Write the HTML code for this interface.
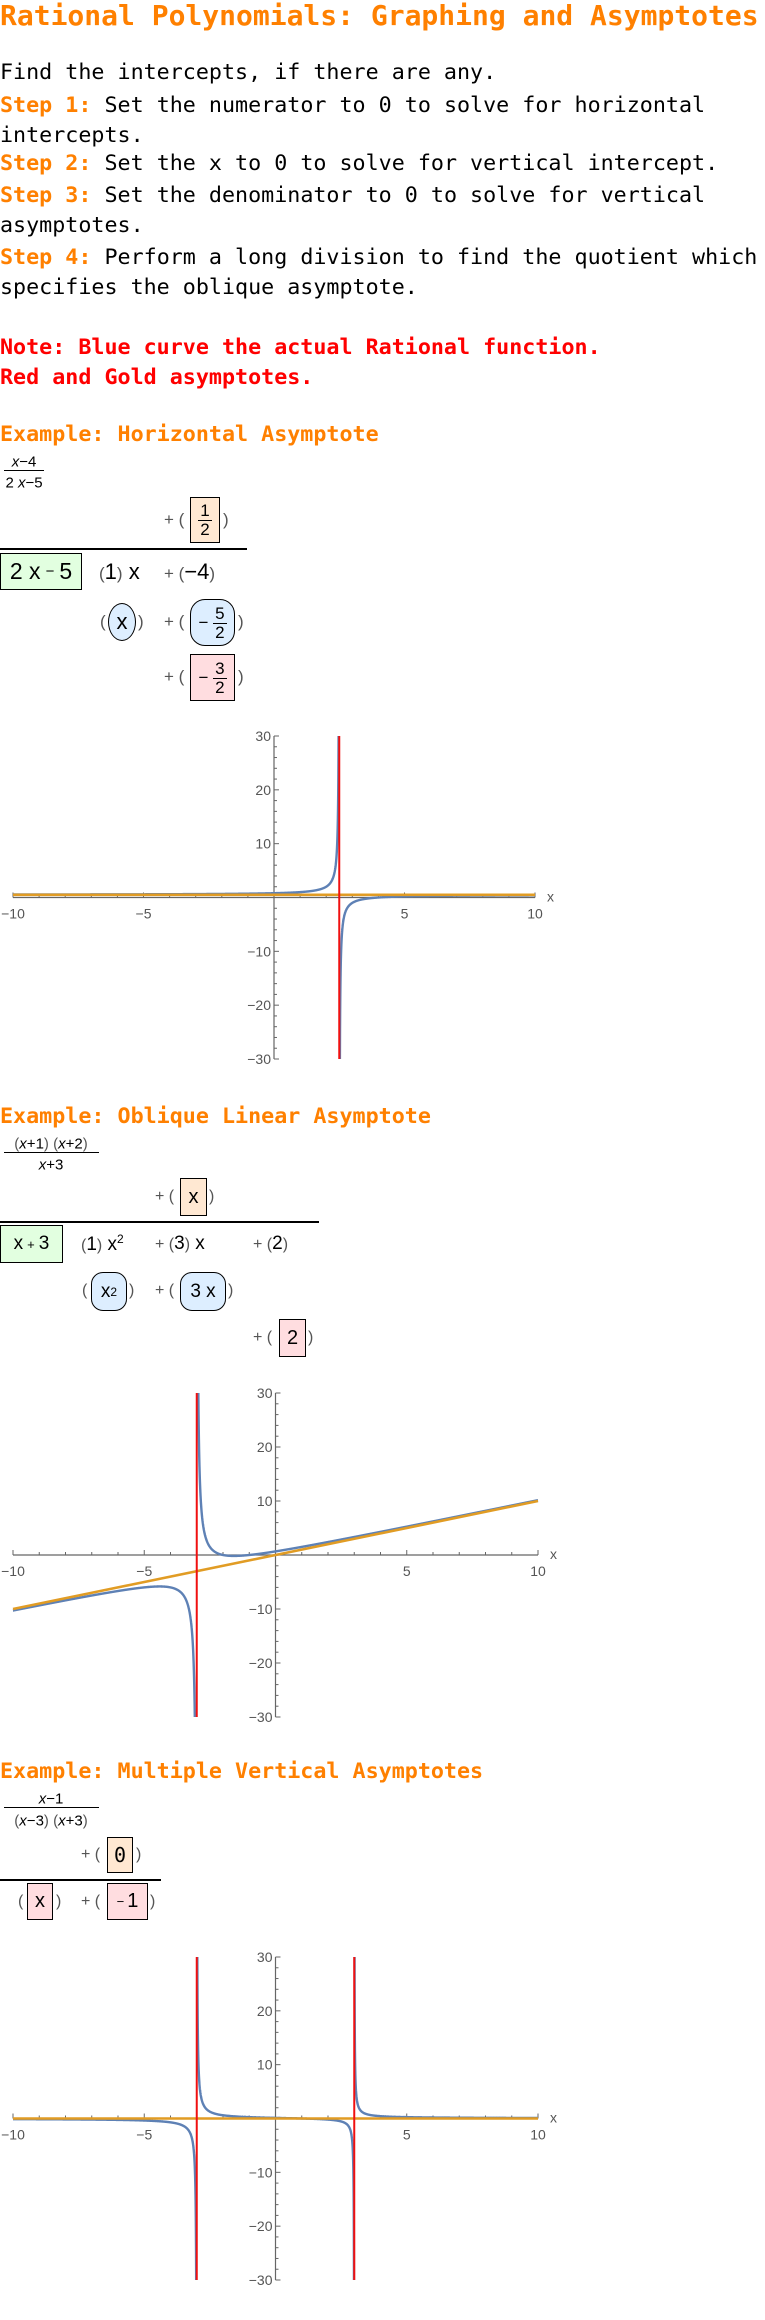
<!DOCTYPE html>
<html><head><meta charset="utf-8">
<style>
html,body{margin:0;padding:0;background:#fff}
body{width:765px;height:2320px;position:relative;overflow:hidden}
.a{position:absolute;white-space:nowrap}
.m{font-family:"DejaVu Sans Mono","Liberation Mono",monospace}
.ln{font-size:21.7px;line-height:30px;height:30px;color:#000}
.or{color:#FF8000;font-weight:bold}
.rd{color:#FF0000;font-weight:bold}
.s{font-family:"Liberation Sans","DejaVu Sans",sans-serif;color:#000;transform:translateY(-50%)}
.p{color:#555;font-weight:300}
.bx{position:absolute;border:1.5px solid #000;box-sizing:border-box;display:flex;align-items:center;justify-content:center;font-family:"Liberation Sans","DejaVu Sans",sans-serif;color:#000}
.hl{position:absolute;background:#000;height:1.5px}
.fr{display:inline-flex;flex-direction:column;align-items:center;line-height:1;vertical-align:middle}
.fr span:first-child{border-bottom:1px solid #000;padding:0 2px 1px}
.sf{position:absolute;font-family:"Liberation Sans","DejaVu Sans",sans-serif;font-size:15px;transform:translate(-50%,-50%);color:#000}
i{font-style:italic}
</style></head>
<body>

<div class="a m" style="left:0;top:0;font-size:28px;line-height:32px;font-weight:bold;color:#FF8000">Rational Polynomials: Graphing and Asymptotes</div>

<div class="a m ln" style="left:0;top:58px">Find the intercepts, if there are any.</div>
<div class="a m ln" style="left:0;top:91px"><span class="or">Step 1:</span> Set the numerator to 0 to solve for horizontal</div>
<div class="a m ln" style="left:0;top:121px">intercepts.</div>
<div class="a m ln" style="left:0;top:149px"><span class="or">Step 2:</span> Set the x to 0 to solve for vertical intercept.</div>
<div class="a m ln" style="left:0;top:181px"><span class="or">Step 3:</span> Set the denominator to 0 to solve for vertical</div>
<div class="a m ln" style="left:0;top:211px">asymptotes.</div>
<div class="a m ln" style="left:0;top:243px"><span class="or">Step 4:</span> Perform a long division to find the quotient which</div>
<div class="a m ln" style="left:0;top:273px">specifies the oblique asymptote.</div>
<div class="a m ln rd" style="left:0;top:333px">Note: Blue curve the actual Rational function.</div>
<div class="a m ln rd" style="left:0;top:363px">Red and Gold asymptotes.</div>

<!-- Example 1 -->
<div class="a m ln or" style="left:0;top:420px">Example: Horizontal Asymptote</div>
<div class="sf" style="left:24px;top:462px"><i>x</i>−4</div>
<div class="hl" style="left:4px;width:40px;top:470px;height:1px"></div>
<div class="sf" style="left:24px;top:483px">2 <i>x</i>−5</div>

<div class="a s p" style="left:164px;top:520px;font-size:17px">+ (</div>
<div class="bx" style="left:190px;top:497px;width:30px;height:46px;background:#FFE8D2;font-size:17px"><span class="fr"><span>1</span><span>2</span></span></div>
<div class="a s p" style="left:223px;top:520px;font-size:17px">)</div>
<div class="hl" style="left:0;width:247px;top:548px"></div>
<div class="bx" style="left:0;top:553px;width:82px;height:37px;background:#E2FFE0;font-size:23px">2 x <span style="font-size:15px;margin:0 5px">−</span> 5</div>
<div class="a s" style="left:99px;top:572px;font-size:22px"><span class="p" style="font-size:17px">(</span>1<span class="p" style="font-size:17px">)</span> x</div>
<div class="a s" style="left:164px;top:572px;font-size:22px"><span class="p" style="font-size:17px">+ (</span>−4<span class="p" style="font-size:17px">)</span></div>
<div class="a s p" style="left:100px;top:622px;font-size:17px">(</div>
<div class="bx" style="left:108px;top:603px;width:28px;height:38px;border-radius:50%;border-width:1px;background:#DDEEFF;font-size:22px">x</div>
<div class="a s p" style="left:138px;top:622px;font-size:17px">)</div>
<div class="a s p" style="left:164px;top:622px;font-size:17px">+ (</div>
<div class="bx" style="left:190px;top:599px;width:45px;height:47px;border-radius:15px;border-width:1px;background:#DDEEFF;font-size:17px">−&nbsp;<span class="fr"><span>5</span><span>2</span></span></div>
<div class="a s p" style="left:238px;top:622px;font-size:17px">)</div>
<div class="a s p" style="left:164px;top:677px;font-size:17px">+ (</div>
<div class="bx" style="left:190px;top:654px;width:45px;height:47px;background:#FFDDE0;font-size:17px">−&nbsp;<span class="fr"><span>3</span><span>2</span></span></div>
<div class="a s p" style="left:238px;top:677px;font-size:17px">)</div>

<svg id="plots" class="a" style="left:0;top:0" width="765" height="2320"></svg>

<!-- Example 2 -->
<div class="a m ln or" style="left:0;top:1102px">Example: Oblique Linear Asymptote</div>
<div class="sf" style="left:51px;top:1144px"><span class="p">(</span><i>x</i>+1<span class="p">) (</span><i>x</i>+2<span class="p">)</span></div>
<div class="hl" style="left:4px;width:95px;top:1152px;height:1px"></div>
<div class="sf" style="left:51px;top:1165px"><i>x</i>+3</div>
<div class="a s p" style="left:155px;top:1197px;font-size:16px">+ (</div>
<div class="bx" style="left:180px;top:1178px;width:27px;height:38px;background:#FFE8D2;font-size:20px">x</div>
<div class="a s p" style="left:209px;top:1197px;font-size:16px">)</div>
<div class="hl" style="left:0;width:319px;top:1221px"></div>
<div class="bx" style="left:0;top:1225px;width:63px;height:38px;background:#E2FFE0;font-size:19px">x <span style="font-size:13px;margin:0 4px">+</span> 3</div>
<div class="a s" style="left:81px;top:1244px;font-size:19px"><span class="p" style="font-size:16px">(</span>1<span class="p" style="font-size:16px">)</span> x<sup style="font-size:12px">2</sup></div>
<div class="a s" style="left:155px;top:1244px;font-size:19px"><span class="p" style="font-size:16px">+ (</span>3<span class="p" style="font-size:16px">)</span> x</div>
<div class="a s" style="left:253px;top:1244px;font-size:19px"><span class="p" style="font-size:16px">+ (</span>2<span class="p" style="font-size:16px">)</span></div>
<div class="a s p" style="left:82px;top:1291px;font-size:16px">(</div>
<div class="bx" style="left:91px;top:1272px;width:36px;height:39px;border-radius:12px;border-width:1px;background:#DDEEFF;font-size:19px">x<sup style="font-size:12px">2</sup></div>
<div class="a s p" style="left:129px;top:1291px;font-size:16px">)</div>
<div class="a s p" style="left:155px;top:1291px;font-size:16px">+ (</div>
<div class="bx" style="left:180px;top:1272px;width:46px;height:39px;border-radius:12px;border-width:1px;background:#DDEEFF;font-size:19px">3 x</div>
<div class="a s p" style="left:228px;top:1291px;font-size:16px">)</div>
<div class="a s p" style="left:253px;top:1338px;font-size:16px">+ (</div>
<div class="bx" style="left:279px;top:1319px;width:27px;height:38px;background:#FFDDE0;font-size:20px">2</div>
<div class="a s p" style="left:308px;top:1338px;font-size:16px">)</div>

<!-- Example 3 -->
<div class="a m ln or" style="left:0;top:1757px">Example: Multiple Vertical Asymptotes</div>
<div class="sf" style="left:51px;top:1799px"><i>x</i>−1</div>
<div class="hl" style="left:4px;width:95px;top:1807px;height:1px"></div>
<div class="sf" style="left:51px;top:1821px"><span class="p">(</span><i>x</i>−3<span class="p">) (</span><i>x</i>+3<span class="p">)</span></div>
<div class="a s p" style="left:81px;top:1855px;font-size:16px">+ (</div>
<div class="bx m" style="left:107px;top:1837px;width:26px;height:36px;background:#FFE8D2;font-size:20px;font-family:'DejaVu Sans Mono',monospace">0</div>
<div class="a s p" style="left:136px;top:1855px;font-size:16px">)</div>
<div class="hl" style="left:0;width:161px;top:1879px"></div>
<div class="a s p" style="left:18px;top:1902px;font-size:16px">(</div>
<div class="bx" style="left:27px;top:1883px;width:26px;height:37px;background:#FFDDE0;font-size:20px">x</div>
<div class="a s p" style="left:56px;top:1902px;font-size:16px">)</div>
<div class="a s p" style="left:81px;top:1902px;font-size:16px">+ (</div>
<div class="bx" style="left:107px;top:1883px;width:41px;height:37px;background:#FFDDE0;font-size:20px"><span style="font-size:13px;margin-right:3px">−</span>1</div>
<div class="a s p" style="left:150px;top:1902px;font-size:16px">)</div>

<script>
// ---- chart data ----
const xTickValues = [-10, -5, 5, 10];
const xTickLabels = ["−10", "−5", "5", "10"];
const yTickValues = [-30, -20, -10, 10, 20, 30];
const yTickLabels = ["−30", "−20", "−10", "10", "20", "30"];
const xDomain = [-10, 10];
const yDomain = [-30, 30];

// plot 1: (x-4)/(2x-5)
const p1Numerator = [1, -4];
const p1Denominator = [2, -5];
const p1Vertical = [2.5];
const p1Asymptote = [0, 0.5]; // slope, intercept

// plot 2: (x+1)(x+2)/(x+3)
const p2Numerator = [1, 3, 2];
const p2Denominator = [1, 3];
const p2Vertical = [-3];
const p2Asymptote = [1, 0];

// plot 3: (x-1)/((x-3)(x+3))
const p3Numerator = [1, -1];
const p3Denominator = [1, 0, -9];
const p3Vertical = [-3, 3];
const p3Asymptote = [0, 0];

const NS = "http://www.w3.org/2000/svg";
function poly(c, x) { let v = 0; for (const k of c) v = v * x + k; return v; }
function mk(tag, attrs, parent) {
  const e = document.createElementNS(NS, tag);
  for (const k in attrs) e.setAttribute(k, attrs[k]);
  parent.appendChild(e);
  return e;
}
let clipCount = 0;

function drawPlot(svg, box, num, den, vert, asym, prefix) {
  const sx = x => box.l + (x - xDomain[0]) / (xDomain[1] - xDomain[0]) * (box.r - box.l);
  const sy = y => box.t + (yDomain[1] - y) / (yDomain[1] - yDomain[0]) * (box.b - box.t);
  const g = mk("g", {}, svg);
  
  
  const cid = "clip" + (clipCount++);
  const cp = mk("clipPath", {id: cid}, g);
  mk("rect", {x: box.l - 2, y: box.t, width: box.r - box.l + 4, height: box.b - box.t}, cp);
  const ax = "#666";
  const xa = mk("line", {x1: sx(xDomain[0]), x2: sx(xDomain[1]), y1: sy(0), y2: sy(0), stroke: ax, "stroke-width": 1.2}, g);
  
  
  const ya = mk("line", {x1: sx(0), x2: sx(0), y1: sy(yDomain[1]), y2: sy(yDomain[0]), stroke: ax, "stroke-width": 1.2}, g);
  
  
  for (let v = xDomain[0]; v <= xDomain[1]; v += 1) {
    const major = v % 5 === 0;
    const t = mk("line", {x1: sx(v), x2: sx(v), y1: sy(0), y2: sy(0) - (major ? 5 : 3), stroke: ax, "stroke-width": 1}, g);
    
    
  }
  for (let v = yDomain[0]; v <= yDomain[1]; v += 2) {
    const major = v % 10 === 0;
    const t = mk("line", {x1: sx(0), x2: sx(0) + (major ? 5 : 3), y1: sy(v), y2: sy(v), stroke: ax, "stroke-width": 1}, g);
    
    
  }
  xTickValues.forEach((v, i) => {
    const t = mk("text", {x: sx(v), y: sy(0) + 21, "text-anchor": "middle", "font-size": 14, fill: "#555", "font-family": "Liberation Sans, sans-serif"}, g);
    t.textContent = xTickLabels[i];
    
    
  });
  yTickValues.forEach((v, i) => {
    const t = mk("text", {x: sx(0) - 3, y: sy(v) + 5, "text-anchor": "end", "font-size": 14, fill: "#555", "font-family": "Liberation Sans, sans-serif"}, g);
    t.textContent = yTickLabels[i];
    
    
  });
  const xl = mk("text", {x: sx(xDomain[1]) + 12, y: sy(0) + 4, "font-size": 14, fill: "#555", "font-family": "Liberation Sans, sans-serif"}, g);
  xl.textContent = "x";
  
  

  const breaks = [xDomain[0], ...vert.slice().sort((a, b) => a - b), xDomain[1]];
  let d = "";
  for (let s = 0; s < breaks.length - 1; s++) {
    const a = breaks[s], b = breaks[s + 1];
    let pen = false;
    const n = 6000;
    for (let i = 0; i <= n; i++) {
      const x = a + (b - a) * i / n;
      const dv = poly(den, x);
      if (Math.abs(dv) < 1e-9) { pen = false; continue; }
      let y = poly(num, x) / dv;
      y = Math.max(-200, Math.min(200, y));
      d += (pen ? "L" : "M") + sx(x).toFixed(2) + " " + sy(y).toFixed(2);
      pen = true;
    }
  }
  const curve = mk("path", {d: d, fill: "none", stroke: "#5E81B5", "stroke-width": 2.4, "stroke-linejoin": "round", "clip-path": "url(#" + cid + ")"}, g);
  
  
  const y1 = asym[0] * xDomain[0] + asym[1], y2 = asym[0] * xDomain[1] + asym[1];
  const gl = mk("line", {x1: sx(xDomain[0]), y1: sy(y1), x2: sx(xDomain[1]), y2: sy(y2), stroke: "#E19C24", "stroke-width": 2.6}, g);
  
  
  vert.forEach(v => {
    const r = mk("line", {x1: sx(v), x2: sx(v), y1: sy(yDomain[1]), y2: sy(yDomain[0]), stroke: "#F01010", "stroke-width": 2}, g);
    
    
  });
}

const svgEl = document.getElementById("plots");
drawPlot(svgEl, {l: 13, r: 535, t: 736, b: 1059}, p1Numerator, p1Denominator, p1Vertical, p1Asymptote, "plot-1");
drawPlot(svgEl, {l: 13, r: 538, t: 1393, b: 1717}, p2Numerator, p2Denominator, p2Vertical, p2Asymptote, "plot-2");
drawPlot(svgEl, {l: 13, r: 538, t: 1957, b: 2280}, p3Numerator, p3Denominator, p3Vertical, p3Asymptote, "plot-3");
</script>
</body></html>
